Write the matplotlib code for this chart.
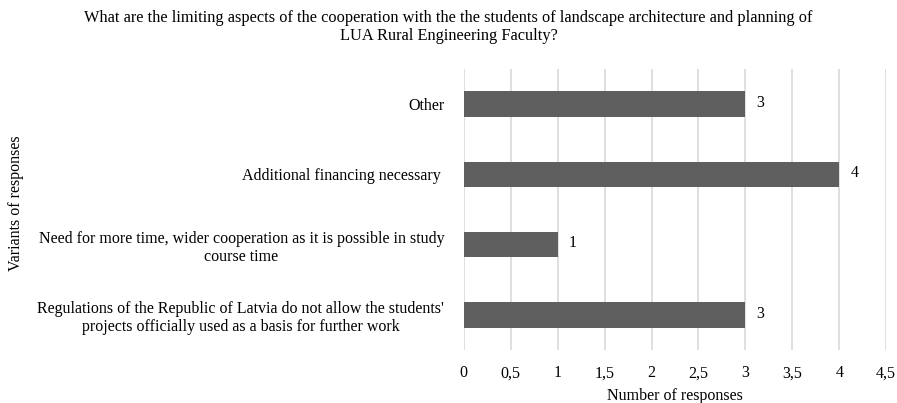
import matplotlib.pyplot as plt

plt.rcParams['font.family'] = ['Liberation Serif', 'DejaVu Serif']

categories = [
    "Regulations of the Republic of Latvia do not allow the students'\nprojects officially used as a basis for further work",
    "Need for more time, wider cooperation as it is possible in study\ncourse time",
    "Additional financing necessary ",
    "Other",
]
responses = [3, 1, 4, 3]
tick_values = [0, 0.5, 1, 1.5, 2, 2.5, 3, 3.5, 4, 4.5]
tick_labels = ['0', '0,5', '1', '1,5', '2', '2,5', '3', '3,5', '4', '4,5']

fig = plt.figure(figsize=(8.97, 4.03), dpi=100)
ax = fig.add_axes([0.517, 0.131, 0.471, 0.698])

ypos = list(range(len(categories)))
ax.barh(ypos, responses, height=0.36, color='#5f5f5f', zorder=3)
for y, v in zip(ypos, responses):
    ax.text(v + 0.12, y + 0.02, str(v), va='center', ha='left', fontsize=11.5)

ax.set_yticks(ypos)
ax.set_yticklabels(categories, fontsize=11.5, multialignment='center')
ax.set_ylim(-0.5, 3.5)
ax.set_xlim(0, 4.5)
ax.set_xticks(tick_values)
ax.set_xticklabels(tick_labels, fontsize=11.5)
ax.tick_params(length=0, pad=11)
ax.tick_params(axis='y', pad=14)
ax.grid(axis='x', color='#d9d9d9', linewidth=1.2, zorder=0)
for s in ax.spines.values():
    s.set_visible(False)

ax.set_xlabel('Number of responses', fontsize=11.5, labelpad=5)
fig.text(0.018, 0.495, 'Variants of responses', rotation=90, fontsize=11.5,
         va='center', ha='center')
fig.text(0.5, 0.975,
         'What are the limiting aspects of the cooperation with the the students of landscape architecture and planning of\nLUA Rural Engineering Faculty?',
         ha='center', va='top', fontsize=11.8, linespacing=1.2)

fig.savefig('out.png', dpi=100)
